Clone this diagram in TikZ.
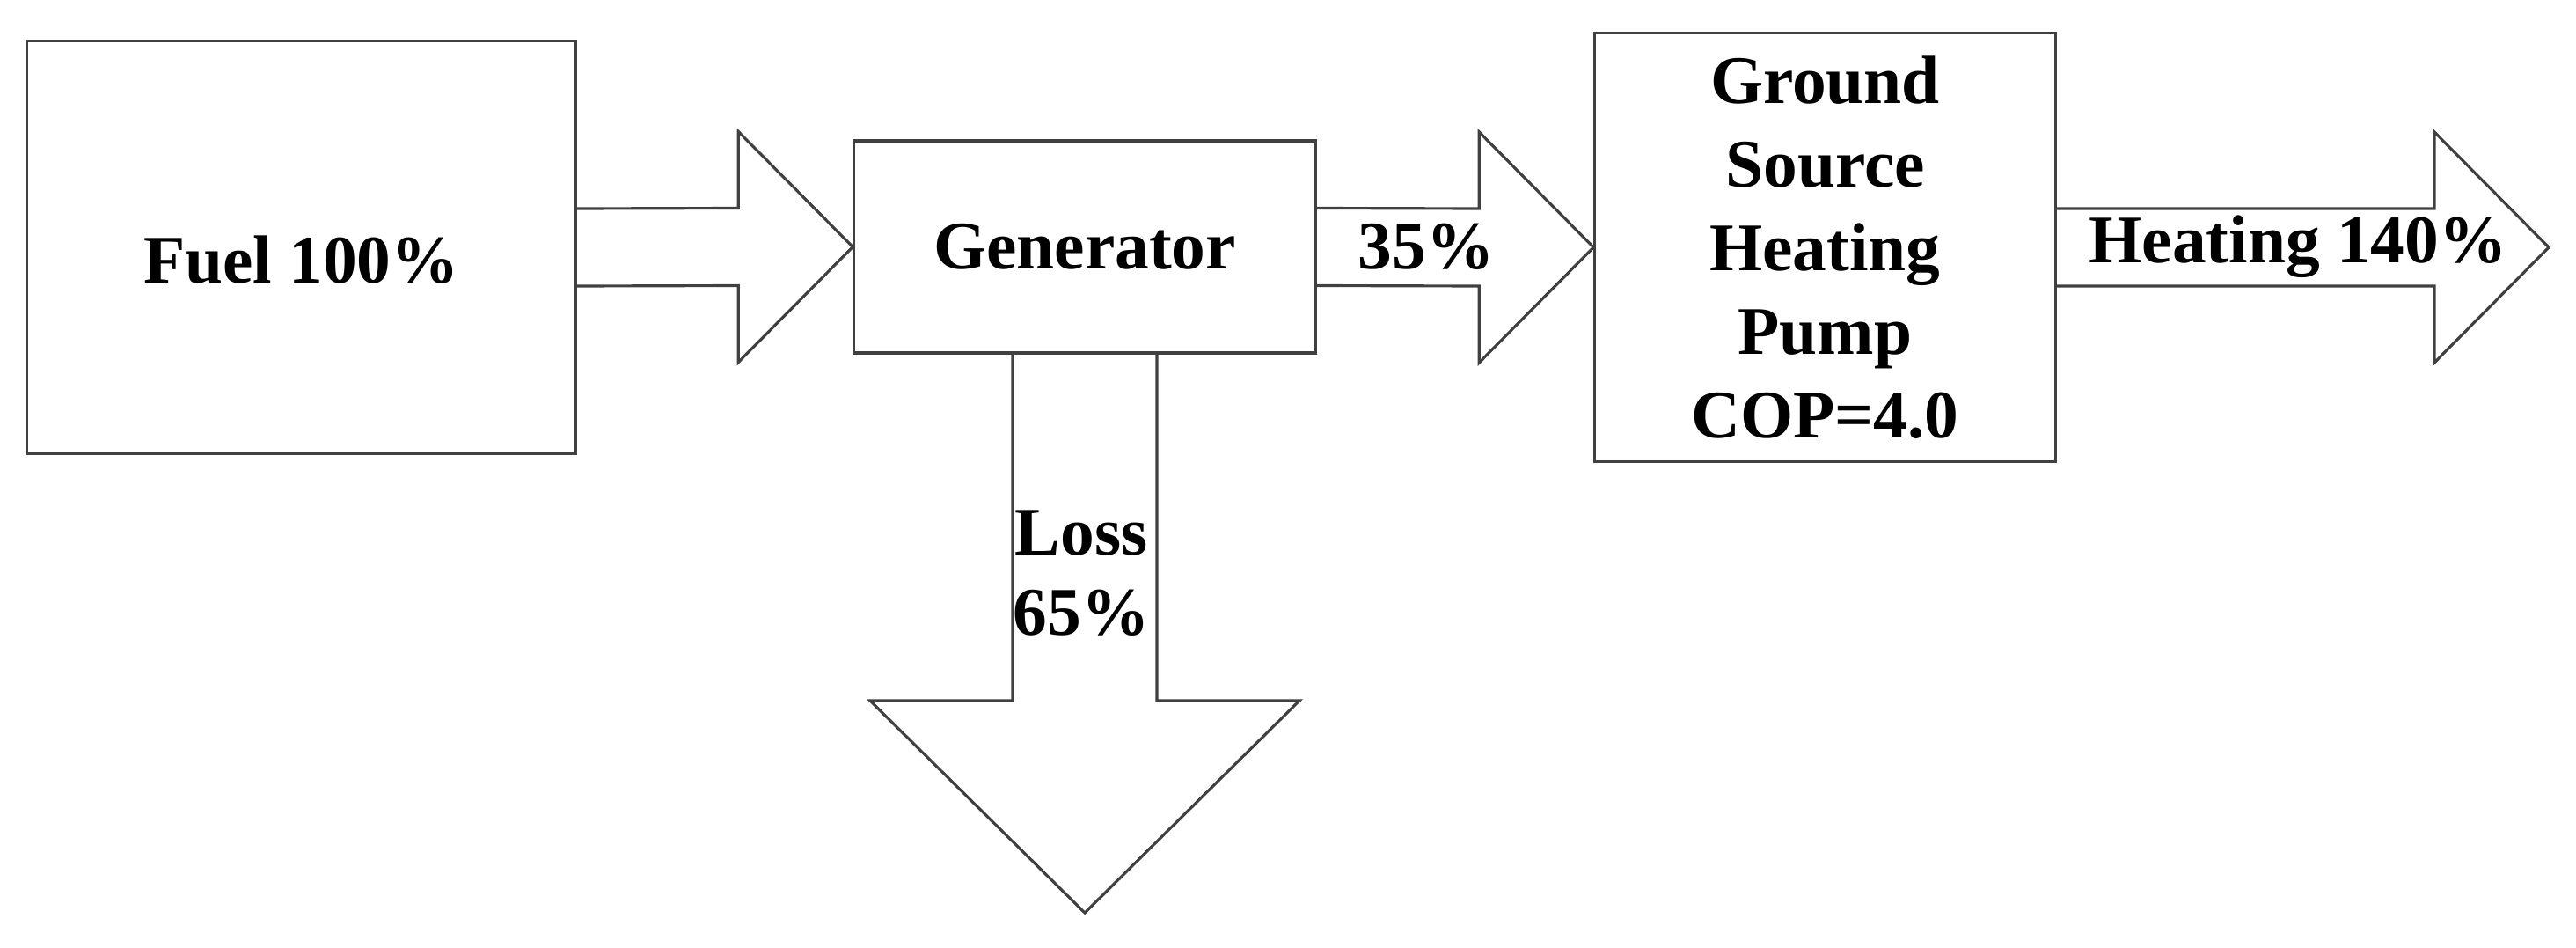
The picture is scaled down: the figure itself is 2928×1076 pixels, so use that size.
\documentclass[tikz,border=0pt]{standalone}
\usepackage{fontspec}
\setmainfont{Liberation Serif}
\usetikzlibrary{calc}

\newcommand{\flowright}[2]{%
	\draw ($(#1)+(0,-44)$) -- ($(#2)+(-130,-44)$) -- ($(#2)+(-130,-131)$) -- (#2)
		-- ($(#2)+(-130,131)$) -- ($(#2)+(-130,44)$) -- ($(#1)+(0,44)$);}

\begin{document}
\begin{tikzpicture}[x=0.01cm,y=-0.01cm,font=\fontsize{22}{27}\selectfont\bfseries]
\useasboundingbox (0,0) rectangle (2928,1076);

\begin{scope}[every node/.style={draw=black!75,line width=0.9pt,align=center}]
	\node (fuel) at (342.5,281) [minimum width=6.23cm,minimum height=4.68cm,text height=0.8cm,text depth=0cm] {Fuel 100\%};
	\node (gen) at (1233,280.5) [minimum width=5.24cm,minimum height=2.41cm] {Generator};
	\node (gshp) at (2074.5,281) [minimum width=5.23cm,minimum height=4.86cm] {Ground\\Source\\Heating\\Pump\\COP=4.0};
\end{scope}

\coordinate (heat) at (2897,281);
\coordinate (lossend) at (1233,1037);

\begin{scope}[draw=black!75,line width=0.9pt]
	\flowright{fuel.east}{gen.west}
	\flowright{gen.east}{gshp.west}
	\flowright{gshp.east}{heat}
	\draw ($(gen.south)+(-82,0)$) -- ($(lossend)+(-82,-241)$) -- ($(lossend)+(-244,-241)$) -- (lossend)
		-- ($(lossend)+(244,-241)$) -- ($(lossend)+(82,-241)$) -- ($(gen.south)+(82,0)$);
\end{scope}

\node (pct) at (1621,280) {35\%};
\node (heatlbl) at (2612,280) {Heating 140\%};
\node (losslbl) at (1229,651) [align=center,font=\fontsize{22}{26}\selectfont\bfseries] {Loss\\65\%};

\end{tikzpicture}
\end{document}
